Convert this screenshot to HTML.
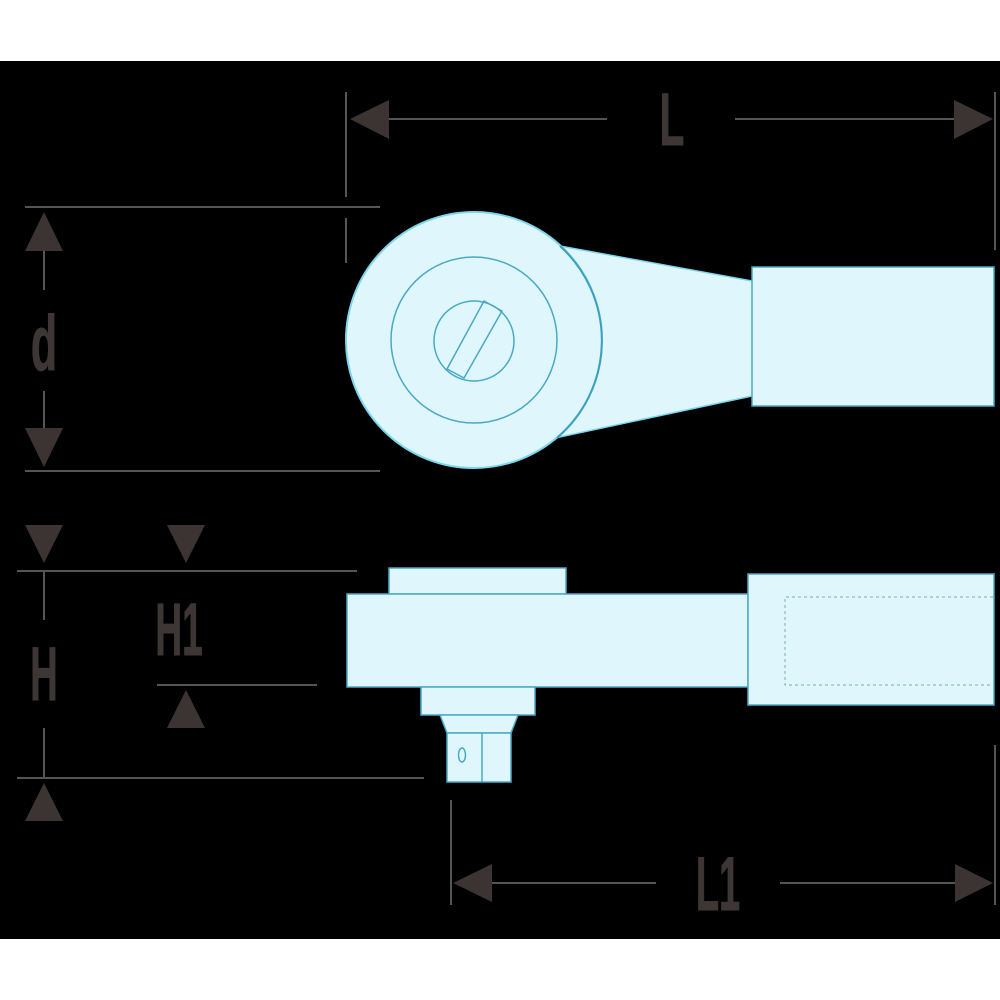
<!DOCTYPE html>
<html><head><meta charset="utf-8"><style>
html,body{margin:0;padding:0;background:#fff;}
svg{display:block;}
text{font-family:"Liberation Sans",sans-serif;fill:#3d3635;font-weight:bold;stroke:#3d3635;stroke-width:1;}
</style></head><body>
<svg width="1000" height="1000" viewBox="0 0 1000 1000">
<rect x="0" y="0" width="1000" height="1000" fill="#fff"/>
<rect x="0" y="61" width="1000" height="878" fill="#000"/>
<g stroke="#555" stroke-width="2" fill="none">
 <line x1="346" y1="92" x2="346" y2="197"/><line x1="346" y1="218" x2="346" y2="263"/>
 <line x1="995" y1="92" x2="995" y2="250"/>
 <line x1="389" y1="119" x2="607" y2="119"/><line x1="735" y1="119" x2="955" y2="119"/>
 <line x1="25" y1="207" x2="380" y2="207"/><line x1="25" y1="471" x2="380" y2="471"/>
 <line x1="44" y1="251" x2="44" y2="290"/><line x1="44" y1="391" x2="44" y2="428"/>
 <line x1="17" y1="571" x2="357" y2="571"/>
 <line x1="157" y1="685" x2="317" y2="685"/>
 <line x1="17" y1="778" x2="424" y2="778"/>
 <line x1="44" y1="571" x2="44" y2="620"/><line x1="44" y1="728" x2="44" y2="778"/>
 <line x1="451" y1="800" x2="451" y2="905"/><line x1="995" y1="745" x2="995" y2="905"/>
 <line x1="490" y1="883" x2="656" y2="883"/><line x1="780" y1="883" x2="955" y2="883"/>
</g>
<g fill="#3b3433">
 <polygon points="350,119 389,100 389,139"/>
 <polygon points="993,119 954,100 954,139"/>
 <polygon points="44,212 25,251 63,251"/>
 <polygon points="44,467 25,428 63,428"/>
 <polygon points="25,525 63,525 44,563"/>
 <polygon points="167,525 205,525 186,563"/>
 <polygon points="186,690 167,728 205,728"/>
 <polygon points="44,783 25,821 63,821"/>
 <polygon points="453,883 492,864 492,902"/>
 <polygon points="993,883 955,864 955,902"/>
</g>
<g>
 <text x="672" y="145" font-size="74" text-anchor="middle" transform="translate(672,0) scale(0.55,1) translate(-672,0)">L</text>
 <text x="44" y="370" font-size="78" text-anchor="middle" transform="translate(44,0) scale(0.55,1) translate(-44,0)">d</text>
 <text x="44" y="700" font-size="76" text-anchor="middle" transform="translate(44,0) scale(0.5,1) translate(-44,0)">H</text>
 <text x="179" y="655" font-size="74" text-anchor="middle" transform="translate(179,0) scale(0.5,1) translate(-179,0)">H1</text>
 <text x="718" y="910" font-size="76" text-anchor="middle" transform="translate(718,0) scale(0.5,1) translate(-718,0)">L1</text>
</g>
<g fill="#e0f6fd" stroke="#4aa9c4" stroke-width="1.5">
 <polygon points="560,246 752,281 752,396 555,438" stroke="none"/>
 <line x1="560" y1="246" x2="752" y2="281" stroke="#7cd6ee"/>
 <line x1="555" y1="438" x2="752" y2="396" stroke="#7cd6ee"/>
 <circle cx="474" cy="340" r="128" stroke="#7cd6ee" stroke-width="2"/>
 <path d="M560,246 A128,128 0 0 1 557,438" fill="none" stroke="#3d9fbe" stroke-width="2"/>
 <circle cx="474" cy="340" r="83" fill="none"/>
 <circle cx="474" cy="341" r="40" fill="none"/>
 <polygon points="484,301 502,311 464,378 447,369" fill="none"/>
 <rect x="752" y="267" width="242" height="139"/>
</g>
<g fill="#e0f6fd" stroke="#4aa9c4" stroke-width="1.5">
 <rect x="389" y="568" width="177" height="26"/>
 <rect x="347" y="594" width="401" height="93"/>
 <rect x="421" y="687" width="114" height="28"/>
 <polygon points="440,715 518,715 511,733 447,733"/>
 <rect x="447" y="733" width="64" height="49"/>
 <line x1="482" y1="733" x2="482" y2="782"/>
 <ellipse cx="462" cy="755" rx="3.5" ry="7" fill="none"/>
 <rect x="748" y="574" width="246" height="131"/>
 <polyline points="993,597 785,597 785,685 993,685" fill="none" stroke="#7ab" stroke-width="1" stroke-dasharray="3,3"/>
</g>
</svg>
</body></html>
